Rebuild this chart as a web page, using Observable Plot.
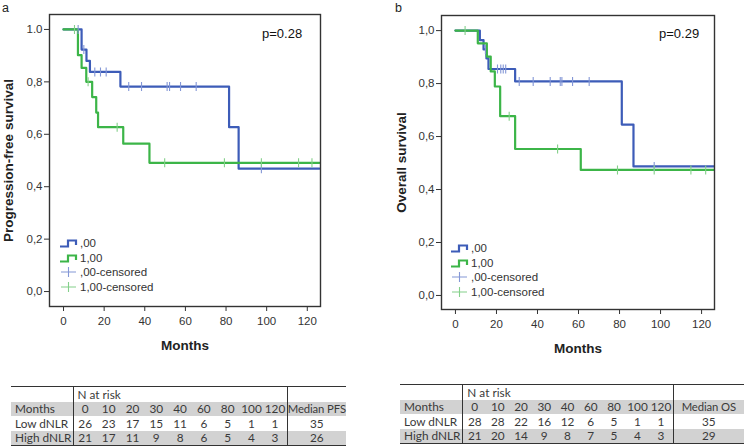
<!DOCTYPE html>
<html><head><meta charset="utf-8">
<script src="https://cdn.jsdelivr.net/npm/d3@7"></script>
<script src="https://cdn.jsdelivr.net/npm/@observablehq/plot@0.6"></script>
<style>
html,body{margin:0;padding:0;background:#fff;overflow:hidden;}
#wrap{position:relative;width:744px;height:446px;overflow:hidden;font-family:"Liberation Sans",Arial,sans-serif;color:#222;}
.pan{position:absolute;top:0;}
.lbl{position:absolute;font-size:12.5px;color:#222;}
.pv{position:absolute;font-size:13px;color:#111;}
.leg{position:absolute;font-size:11.5px;color:#333;line-height:14.5px;}
.leg div{display:flex;align-items:center;height:14.5px;}
.leg svg{margin-right:2px;}
table.risk{position:absolute;border-collapse:collapse;font-family:Lato,"Open Sans",sans-serif;font-size:11.8px;color:#3a3a3a;table-layout:fixed;}
table.risk td{padding:0;height:14.5px;line-height:13px;text-align:center;white-space:nowrap;overflow:visible;}
table.risk td.rl{text-align:left;padding-left:4px;}
table.risk td.md{font-size:11.3px;letter-spacing:-0.1px;}
table.risk tr.g td{background:#d2d2d2;}
table.risk tr.first td{border-top:1.5px solid #333;}
table.risk tr.last td{border-bottom:1.5px solid #333;}
table.risk td.vl{border-right:1.5px solid #333;}
svg [aria-label="x-axis label"] text,svg [aria-label="y-axis label"] text{font-weight:bold;font-size:13.5px;fill:#222;}
</style></head>
<body><div id="wrap"></div>
<script>
// ---------- data ----------
const xTicks = [0, 20, 40, 60, 80, 100, 120];
const yTicks = [0, 0.2, 0.4, 0.6, 0.8, 1.0];
const yTickLabelsA = ["0,0", "0,2", "0,4", "0,6", "0,8", "1.0"];
const yTickLabelsB = ["0,0", "0,2", "0,4", "0,6", "0,8", "1,0"];

// Panel a: progression-free survival (step points)
const pfsLowTime  = [0, 8.9, 11.3, 13.0, 28.0, 81.5, 86.2, 126];
const pfsLowSurv  = [1, 0.923, 0.880, 0.838, 0.782, 0.627, 0.469, 0.469];
const pfsHighTime = [0, 7.1, 8.9, 11.2, 14.1, 16.1, 17.0, 29.4, 42.3, 126];
const pfsHighSurv = [1, 0.902, 0.853, 0.800, 0.742, 0.683, 0.627, 0.564, 0.491, 0.491];
const pfsLowCensor  = [7.2, 10.0, 15.4, 18.2, 21.0, 32.1, 38.4, 51.0, 52.2, 57.6, 65.3, 97.4];
const pfsHighCensor = [5.4, 12.1, 26.4, 49.8, 79.2, 97.4, 115.7, 122.3];

// Panel b: overall survival
const osLowTime  = [0, 11.9, 13.7, 15.1, 16.1, 29.1, 81.1, 86.8, 126];
const osLowSurv  = [1, 0.964, 0.929, 0.895, 0.855, 0.808, 0.645, 0.487, 0.487];
const osHighTime = [0, 10.9, 15.3, 17.2, 19.2, 21.8, 29.1, 61.1, 126];
const osHighSurv = [1, 0.952, 0.902, 0.846, 0.789, 0.677, 0.553, 0.474, 0.474];
const osLowCensor  = [14.6, 20.5, 22.1, 23.3, 24.5, 31.1, 37.9, 46.2, 51.1, 51.9, 57.1, 65.2, 96.9];
const osHighCensor = [4.7, 26.2, 49.8, 79.0, 96.9, 114.8, 122.0];

// Risk tables
const riskMonths = [0, 10, 20, 30, 40, 60, 80, 100, 120];
const pfsRiskLow  = [26, 23, 17, 15, 11, 6, 5, 1, 1];
const pfsRiskHigh = [21, 17, 11, 9, 8, 6, 5, 4, 3];
const pfsMedian = [35, 26];
const osRiskLow  = [28, 28, 22, 16, 12, 6, 5, 1, 1];
const osRiskHigh = [21, 20, 14, 9, 8, 7, 5, 4, 3];
const osMedian = [35, 29];

const groupLabels = [",00", "1,00", ",00-censored", "1,00-censored"];

// ---------- styles ----------
const BLUE = "#3d5cb8", GREEN = "#3cb548";
const BLUE_L = "#8497d6", GREEN_L = "#84d08a";

const pts = (T, S) => T.map((t, i) => ({t, s: S[i]}));
const stepAt = (T, S, t) => { let v = S[0]; for (let i = 0; i < T.length; i++) if (T[i] <= t) v = S[i]; return v; };
const cens = (C, T, S) => C.map(t => ({t, s: stepAt(T, S, t)}));
const vtick = {draw(ctx) { ctx.moveTo(0, -4.5); ctx.lineTo(0, 4.5); ctx.moveTo(-0.01,0); ctx.lineTo(0.01,0);} };

function panel(o) {
  return Plot.plot({
    width: 372, height: 360,
    marginLeft: o.ml, marginRight: o.mr, marginTop: o.mt, marginBottom: o.mb,
    x: {domain: o.xd},
    y: {domain: o.yd},
    style: {fontFamily: "'Liberation Sans', Arial, sans-serif", fontSize: "11.5px", color: "#333", background: "#fff"},
    marks: [
      Plot.axisX({ticks: xTicks, tickSize: 5, tickPadding: 5, stroke: "#333", label: "Months", labelAnchor: "center", labelOffset: 43, labelArrow: "none"}),
      Plot.axisY({ticks: yTicks, tickSize: 5, tickPadding: 2, stroke: "#333",
        tickFormat: d => o.ylab[yTicks.findIndex(v => Math.abs(v - d) < 1e-9)],
        label: o.ytitle, labelAnchor: "center", labelOffset: o.lo, labelArrow: "none"}),
      Plot.line(pts(o.lt, o.ls), {x: "t", y: "s", curve: "step-after", stroke: BLUE, strokeWidth: 2.2}),
      Plot.line(pts(o.ht, o.hs), {x: "t", y: "s", curve: "step-after", stroke: GREEN, strokeWidth: 2.2}),
      Plot.dot(cens(o.lc, o.lt, o.ls), {x: "t", y: "s", symbol: vtick, r: 4, stroke: BLUE_L, strokeWidth: 1.1}),
      Plot.dot(cens(o.hc, o.ht, o.hs), {x: "t", y: "s", symbol: vtick, r: 4, stroke: GREEN_L, strokeWidth: 1.1}),
      Plot.frame({stroke: "#333", strokeWidth: 1.4})
    ]
  });
}

const wrap = document.getElementById("wrap");
function add(el, left) { const d = document.createElement("div"); d.className = "pan"; d.style.left = left + "px"; d.appendChild(el); wrap.appendChild(d); }

add(panel({ml: 49, mr: 52, mt: 14, mb: 54, xd: [-6.9, 126.5], yd: [-0.057, 1.057],
  ylab: yTickLabelsA, ytitle: "Progression-free survival", lo: 46,
  lt: pfsLowTime, ls: pfsLowSurv, ht: pfsHighTime, hs: pfsHighSurv, lc: pfsLowCensor, hc: pfsHighCensor}), 0);
add(panel({ml: 69, mr: 30, mt: 15, mb: 51, xd: [-6.8, 126.3], yd: [-0.053, 1.057],
  ylab: yTickLabelsB, ytitle: "Overall survival", lo: 45,
  lt: osLowTime, ls: osLowSurv, ht: osHighTime, hs: osHighSurv, lc: osLowCensor, hc: osHighCensor}), 372);

function html(tag, cls, css, txt) { const e = document.createElement(tag); if (cls) e.className = cls; Object.assign(e.style, css); if (txt != null) e.textContent = txt; wrap.appendChild(e); return e; }
html("div", "lbl", {left: "2px", top: "1px"}, "a");
html("div", "lbl", {left: "395px", top: "1px"}, "b");
html("div", "pv", {left: "262px", top: "26px"}, "p=0.28");
html("div", "pv", {left: "659px", top: "26px"}, "p=0.29");

function legend(left, top) {
  const L = html("div", "leg", {left: left + "px", top: top + "px"});
  const icons = [
    `<svg width="19" height="10"><path d="M1,8.5H9V2.5H17V7" fill="none" stroke="${BLUE}" stroke-width="2.2"/></svg>`,
    `<svg width="19" height="10"><path d="M1,8.5H9V2.5H17V7" fill="none" stroke="${GREEN}" stroke-width="2.2"/></svg>`,
    `<svg width="19" height="12"><path d="M2,6H17M9.5,1V11" fill="none" stroke="${BLUE_L}" stroke-width="1.1"/></svg>`,
    `<svg width="19" height="12"><path d="M2,6H17M9.5,1V11" fill="none" stroke="${GREEN_L}" stroke-width="1.1"/></svg>`
  ];
  groupLabels.forEach((g, i) => { const r = document.createElement("div"); r.innerHTML = icons[i] + `<span>${g}</span>`; L.appendChild(r); });
}
legend(59, 236);
legend(450, 241);

function table(left, top, wLabel, wNum, wMed, low, high, med, medLabel) {
  const t = html("table", "risk", {left: left + "px", top: top + "px"});
  const cg = document.createElement("colgroup");
  [wLabel, ...riskMonths.map(() => wNum), wMed].forEach(w => { const c = document.createElement("col"); c.style.width = w + "px"; cg.appendChild(c); });
  t.appendChild(cg);
  const tb = document.createElement("tbody"); t.appendChild(tb);
  const row = (cls, cells) => { const tr = document.createElement("tr"); if (cls) tr.className = cls; cells.forEach(([txt, c, span]) => { const td = document.createElement("td"); td.textContent = txt; if (c) td.className = c; if (span) td.colSpan = span; tr.appendChild(td); }); tb.appendChild(tr); };
  const nums = a => a.map((v, i) => [String(v), i === a.length - 1 ? "vl" : ""]);
  row("first", [["", "vl"], ["N at risk", "vl rl", 9], [""]]);
  row("g", [["Months", "vl rl"], ...nums(riskMonths), [medLabel, "md"]]);
  row("", [["Low dNLR", "vl rl"], ...nums(low), [String(med[0])]]);
  row("g last", [["High dNLR", "vl rl"], ...nums(high), [String(med[1])]]);
}
table(11, 386, 62, 23.8, 58, pfsRiskLow, pfsRiskHigh, pfsMedian, "Median PFS");
table(400, 384, 63, 24, 72, osRiskLow, osRiskHigh, osMedian, "Median OS");
</script></body></html>
